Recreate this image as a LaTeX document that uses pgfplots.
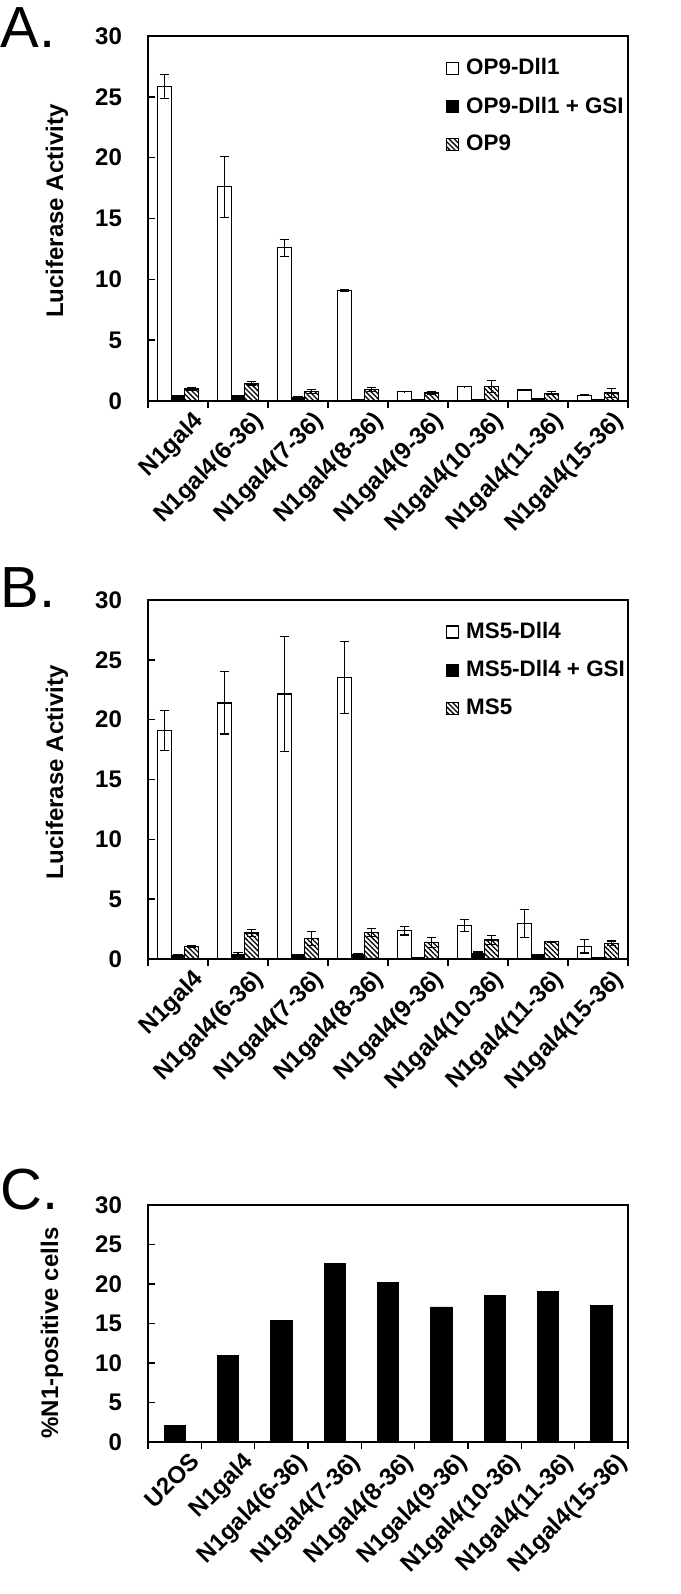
\documentclass[border=0pt]{standalone}
\usepackage{fontspec}
\setmainfont{Liberation Sans}
\usepackage{pgfplots}
\usepackage{pgfplotstable}
\pgfplotsset{compat=1.18}
\usetikzlibrary{patterns.meta}

\pgfplotstableread{
x w we k ke h he
0 25.85 1.0 0.44 0.04 0.99 0.12
1 17.6 2.5 0.41 0.04 1.44 0.13
2 12.6 0.7 0.30 0.03 0.77 0.17
3 9.1 0.08 0.10 0.02 0.94 0.18
4 0.77 0.02 0.08 0.02 0.66 0.08
5 1.19 0.02 0.10 0.02 1.19 0.47
6 0.91 0.02 0.20 0.03 0.64 0.12
7 0.47 0.02 0.08 0.02 0.66 0.36
}\dataA

\pgfplotstableread{
x w we k ke h he
0 19.1 1.65 0.28 0.05 1.06 0.10
1 21.4 2.6 0.40 0.15 2.17 0.30
2 22.15 4.8 0.35 0.05 1.72 0.60
3 23.5 3.0 0.33 0.10 2.22 0.35
4 2.36 0.36 0.10 0.02 1.39 0.40
5 2.83 0.50 0.44 0.15 1.58 0.36
6 2.97 1.15 0.33 0.05 1.44 0.05
7 1.05 0.55 0.10 0.02 1.30 0.20
}\dataB

\pgfplotstableread{
x y
0 2.04
1 10.97
2 15.4
3 22.65
4 20.15
5 17.1
6 18.6
7 19.1
8 17.3
}\dataC

\newcommand{\lblfont}{\fontsize{12}{14}\selectfont\bfseries}
\newcommand{\legfont}{\fontsize{11.2}{13}\selectfont\bfseries}
\pgfplotsset{
  panel/.style={
    scale only axis, width=240pt,
    ymin=0, ymax=30, ytick={0,5,...,30},
    tick align=outside, tick pos=left,
    major tick length=3.5pt,
    ytick style={xshift=3.5pt, line width=0.7pt, black},
    xtick style={line width=0.7pt, black},
    axis line style={line width=0.7pt},
    /pgf/number format/assume math mode=true,
    tick label style={font=\lblfont},
    yticklabel style={xshift=-6pt},
    xticklabels={},
    xticklabel style={rotate=45, anchor=north east, inner sep=0pt, yshift=-8pt, xshift=2pt},
    extra x tick style={major tick length=0pt},
  },
  grouped/.style={
    panel,
    xmin=-0.5, xmax=7.5,
    xtick={-0.5,0.5,...,7.5},
    extra x ticks={0,1,...,7},
    extra x tick labels={N1gal4,N1gal4(6-36),N1gal4(7-36),N1gal4(8-36),N1gal4(9-36),N1gal4(10-36),N1gal4(11-36),N1gal4(15-36)},
    ybar=0pt, bar width=0.228,
    ylabel={Luciferase Activity},
    every axis y label/.style={at={(axis description cs:-0.19,0.52)}, rotate=90, anchor=center, font=\lblfont},
    legend style={draw=none, fill=none, at={(0.62,0.95)}, anchor=north west,
      font=\legfont, row sep=5.5pt, inner sep=0pt,
      /tikz/every odd column/.style={column sep=1.5pt}},
    legend cell align=left,
    legend image code/.code={\draw[##1,line width=0.6pt] (0pt,-3pt) rectangle (6pt,3pt);},
    error bars/y dir=both, error bars/y explicit,
    error bars/error mark options={rotate=90, mark size=2.3pt, line width=0.6pt, black},
    error bars/error bar style={line width=0.6pt, black},
  },
}

\begin{document}
\begin{tikzpicture}
\useasboundingbox (0pt,0pt) rectangle (340pt,797pt);

% Panel A
\begin{axis}[grouped, at={(74pt,596.5pt)}, anchor=south west, height=182.5pt]
\addplot[draw=black, fill=white, line width=0.6pt] table[x=x, y=w, y error=we]{\dataA};
\addplot[draw=black, fill=black, line width=0.6pt] table[x=x, y=k, y error=ke]{\dataA};
\addplot[draw=black, line width=0.6pt, pattern={Lines[angle=-45,distance=1.8pt,line width=0.65pt]}] table[x=x, y=h, y error=he]{\dataA};
\legend{OP9-Dll1, OP9-Dll1 + GSI, OP9}
\end{axis}
\node[anchor=base west, inner sep=0pt, font=\fontsize{29}{31}\selectfont] at (0pt,773pt) {A.};

% Panel B
\begin{axis}[grouped, at={(74pt,317.5pt)}, anchor=south west, height=179.5pt]
\addplot[draw=black, fill=white, line width=0.6pt] table[x=x, y=w, y error=we]{\dataB};
\addplot[draw=black, fill=black, line width=0.6pt] table[x=x, y=k, y error=ke]{\dataB};
\addplot[draw=black, line width=0.6pt, pattern={Lines[angle=-45,distance=1.8pt,line width=0.65pt]}] table[x=x, y=h, y error=he]{\dataB};
\legend{MS5-Dll4, MS5-Dll4 + GSI, MS5}
\end{axis}
\node[anchor=base west, inner sep=0pt, font=\fontsize{29}{31}\selectfont] at (0pt,493pt) {B.};

% Panel C
\begin{axis}[panel, at={(74pt,76pt)}, anchor=south west, height=118.5pt,
  xmin=-0.5, xmax=8.5,
  xtick={-0.5,0.5,...,8.5},
  extra x ticks={0,1,...,8},
  extra x tick labels={U2OS,N1gal4,N1gal4(6-36),N1gal4(7-36),N1gal4(8-36),N1gal4(9-36),N1gal4(10-36),N1gal4(11-36),N1gal4(15-36)},
  ybar, bar width=0.40,
  ylabel={\%N1-positive cells},
  every axis y label/.style={at={(axis description cs:-0.2,0.46)}, rotate=90, anchor=center, font=\lblfont}]
\addplot[draw=black, fill=black] table[x=x, y=y]{\dataC};
\end{axis}
\node[anchor=base west, inner sep=0pt, font=\fontsize{29}{31}\selectfont] at (0pt,192pt) {C.};
\end{tikzpicture}
\end{document}
